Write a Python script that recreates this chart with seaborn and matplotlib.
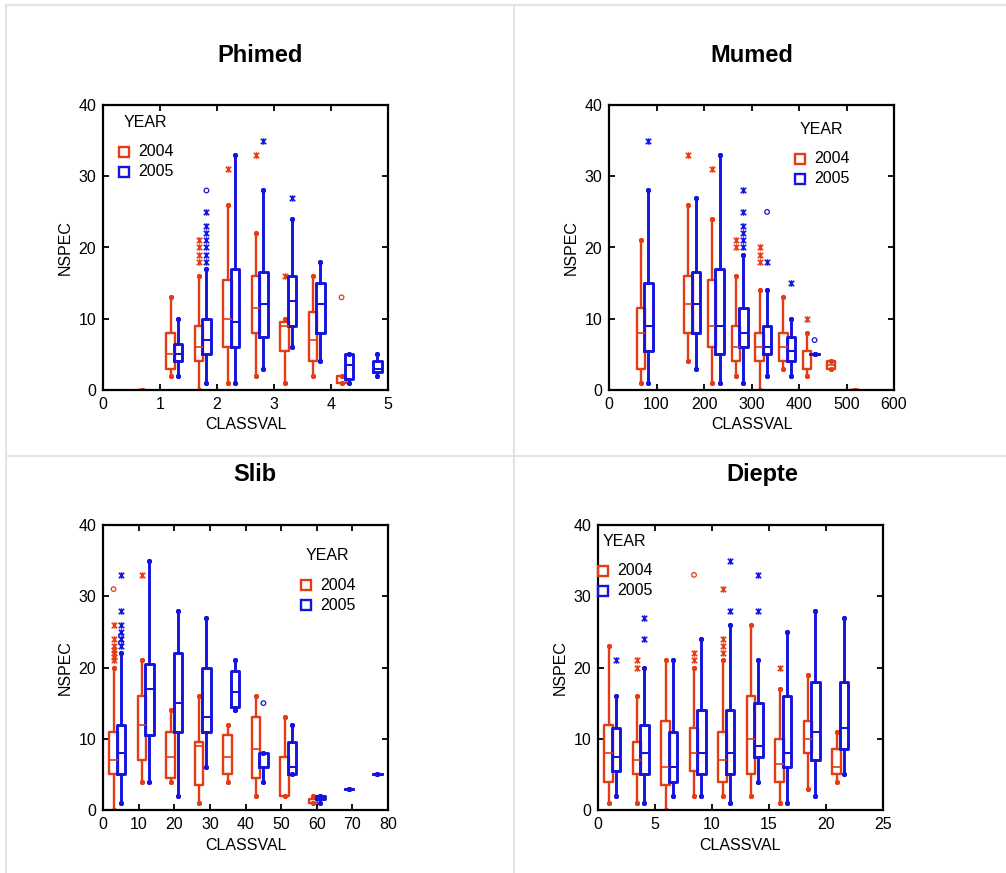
import matplotlib
matplotlib.use("Agg")
import matplotlib.pyplot as plt
from matplotlib.lines import Line2D
from matplotlib.path import Path
import numpy as np
import pandas as pd
import seaborn as sns

# box stats per class: (classval, whisker low, q1, median, q3, whisker high)
phimed_2004 = [
    (0.75, 0, 0, 0, 0, 0),
    (1.25, 2, 3, 5, 8, 13),
    (1.75, 0, 4, 6, 9, 16),
    (2.25, 1, 6, 10, 15.5, 26),
    (2.75, 2, 8, 11.5, 16, 22),
    (3.25, 1, 5.5, 9, 9.5, 10),
    (3.75, 2, 4, 7, 11, 16),
    (4.25, 1, 1, 1, 2, 2),
]
phimed_2005 = [
    (1.25, 2, 4, 5, 6.5, 10),
    (1.75, 1, 5, 7, 10, 17),
    (2.25, 1, 6, 9.5, 17, 33),
    (2.75, 3, 7.5, 12, 16.5, 28),
    (3.25, 6, 9, 12.5, 16, 24),
    (3.75, 4, 8, 12, 15, 18),
    (4.25, 1, 1.5, 3.5, 5, 5),
    (4.75, 2, 2.5, 3, 4, 5),
]
mumed_2004 = [
    (75, 1, 3, 8, 11.5, 21),
    (175, 4, 8, 12, 16, 26),
    (225, 1, 6, 9, 15.5, 24),
    (275, 2, 4, 6, 9, 16),
    (325, 0, 4, 6, 8, 14),
    (375, 3, 4, 6, 8, 13),
    (425, 2, 3, 3, 5.5, 8),
    (475, 3, 3, 3.5, 4, 4),
    (525, 0, 0, 0, 0, 0),
]
mumed_2005 = [
    (75, 1, 5.5, 9, 15, 28),
    (175, 3, 8, 12, 16.5, 27),
    (225, 1, 5, 9, 17, 33),
    (275, 1, 6, 8, 11.5, 19),
    (325, 2, 5, 6, 9, 14),
    (375, 2, 4, 5.5, 7.5, 10),
    (425, 5, 5, 5, 5, 5),
]
slib_2004 = [
    (4, 0, 5, 7, 11, 20),
    (12, 4, 7, 12, 16, 21),
    (20, 4, 4.5, 7.5, 11, 14),
    (28, 1, 3.5, 9, 9.5, 16),
    (36, 4, 5, 7.5, 10.5, 12),
    (44, 2, 4.5, 8.5, 13, 16),
    (52, 2, 2, 2, 7.5, 13),
    (60, 1, 1, 1, 1.5, 2),
]
slib_2005 = [
    (4, 1, 5, 8, 12, 22),
    (12, 4, 10.5, 17, 20.5, 35),
    (20, 2, 11, 15, 22, 28),
    (28, 6, 11, 13, 20, 27),
    (36, 14, 14.5, 16.5, 19.5, 21),
    (44, 4, 6, 6, 8, 8),
    (52, 5, 5, 6, 9.5, 12),
    (60, 1, 1.5, 2, 2, 2),
    (68, 3, 3, 3, 3, 3),
    (76, 5, 5, 5, 5, 5),
]
diepte_2004 = [
    (1.25, 1, 4, 8, 12, 23),
    (3.75, 1, 5, 7, 9.5, 16),
    (6.25, 0, 3.5, 6, 12.5, 21),
    (8.75, 2, 5.5, 8, 11.5, 20),
    (11.25, 2, 4, 7, 11, 21),
    (13.75, 2, 5, 10, 16, 26),
    (16.25, 1, 4, 6.5, 10, 17),
    (18.75, 3, 8, 10, 12.5, 19),
    (21.25, 4, 5, 6, 8.5, 11),
]
diepte_2005 = [
    (1.25, 2, 5.5, 7.5, 11.5, 16),
    (3.75, 1, 5, 8, 12, 20),
    (6.25, 2, 4, 6, 11, 21),
    (8.75, 2, 5, 8, 14, 24),
    (11.25, 1, 5, 8, 14, 26),
    (13.75, 4, 7.5, 9, 15, 21),
    (16.25, 1, 6, 8, 16, 25),
    (18.75, 2, 7, 11, 18, 28),
    (21.25, 5, 8.5, 11.5, 18, 27),
]

# outside values (asterisks) and far outside values (circles): (classval, nspec)
phimed_2004_star = [(1.75, 18), (1.75, 19), (1.75, 20), (1.75, 21), (2.25, 31), (2.75, 33), (3.25, 16)]
phimed_2004_circ = [(4.25, 13)]
phimed_2005_star = [(1.75, 18), (1.75, 19), (1.75, 20), (1.75, 21), (1.75, 22), (1.75, 23),
                    (1.75, 25), (2.75, 35), (3.25, 27)]
phimed_2005_circ = [(1.75, 28)]
mumed_2004_star = [(175, 33), (225, 31), (275, 20), (275, 21), (325, 18), (325, 19), (325, 20), (425, 10)]
mumed_2004_circ = []
mumed_2005_star = [(75, 35), (275, 20), (275, 21), (275, 22), (275, 23), (275, 25), (275, 28),
                   (325, 18), (375, 15)]
mumed_2005_circ = [(325, 25), (425, 7)]
slib_2004_star = [(4, 21), (4, 21.5), (4, 22), (4, 22.5), (4, 23), (4, 24), (4, 26), (12, 33)]
slib_2004_circ = [(4, 31)]
slib_2005_star = [(4, 23), (4, 24), (4, 25), (4, 26), (4, 28), (4, 33)]
slib_2005_circ = [(4, 23.5), (4, 24.5), (44, 15)]
diepte_2004_star = [(3.75, 20), (3.75, 21), (8.75, 21), (8.75, 22), (11.25, 22), (11.25, 23),
                    (11.25, 24), (11.25, 31), (16.25, 20)]
diepte_2004_circ = [(8.75, 33)]
diepte_2005_star = [(1.25, 21), (3.75, 24), (3.75, 27), (11.25, 28), (11.25, 35), (13.75, 28), (13.75, 33)]
diepte_2005_circ = []

years = ["2004", "2005"]
RED = "#e63c14"
BLUE = "#1414e0"

W, H = 1006, 873
AX_W, AX_H = 285, 285
BOX_PX = 8.5    # box width in pixels
SHIFT_PX = 3.7  # offset of each year from class centre, pixels

# x with a vertical bar, like the SYSTAT asterisk
STAR = Path([(-1, -1), (1, 1), (-1, 1), (1, -1), (0, -1.2), (0, 1.2)],
            [Path.MOVETO, Path.LINETO] * 3)

panels = [
    dict(title="Phimed", xmax=5, step=1, rect=(103, 105), title_xy=(260, 55), key=(124, 122.5),
         data=(phimed_2004, phimed_2005),
         star=(phimed_2004_star, phimed_2005_star), circ=(phimed_2004_circ, phimed_2005_circ)),
    dict(title="Mumed", xmax=600, step=100, rect=(609, 105), title_xy=(752, 55), key=(800, 129),
         data=(mumed_2004, mumed_2005),
         star=(mumed_2004_star, mumed_2005_star), circ=(mumed_2004_circ, mumed_2005_circ)),
    dict(title="Slib", xmax=80, step=10, rect=(103, 525), title_xy=(255, 475), key=(306, 555.5),
         data=(slib_2004, slib_2005),
         star=(slib_2004_star, slib_2005_star), circ=(slib_2004_circ, slib_2005_circ)),
    dict(title="Diepte", xmax=25, step=5, rect=(598, 525), title_xy=(762, 475), key=(603, 541),
         data=(diepte_2004, diepte_2005),
         star=(diepte_2004_star, diepte_2005_star), circ=(diepte_2004_circ, diepte_2005_circ)),
]


def fx(px):
    return px / W


def fy(py):
    return 1 - py / H


def draw_boxes(ax, rows, shift, width, color, lw):
    stats = [dict(whislo=r[1], q1=r[2], med=r[3], q3=r[4], whishi=r[5], fliers=[]) for r in rows]
    pos = [r[0] + shift for r in rows]
    ax.bxp(stats, positions=pos, widths=width, showfliers=False, manage_ticks=False,
           capwidths=0,
           boxprops=dict(color=color, lw=lw),
           whiskerprops=dict(color=color, lw=lw),
           capprops=dict(color=color, marker="o", ms=2.6, ls="none"),
           medianprops=dict(color=color, lw=lw * 0.7))


def draw_outliers(ax, pts, shift, color, kind):
    if not pts:
        return
    df = pd.DataFrame(pts, columns=["CLASSVAL", "NSPEC"])
    df["CLASSVAL"] = df["CLASSVAL"] + shift
    if kind == "star":
        sns.scatterplot(data=df, x="CLASSVAL", y="NSPEC", marker=STAR, s=22,
                        color=color, edgecolor=color, linewidth=1.1, ax=ax, clip_on=False)
    else:
        sns.scatterplot(data=df, x="CLASSVAL", y="NSPEC", marker="o", s=11,
                        facecolor="none", edgecolor=color, linewidth=0.9, ax=ax, clip_on=False)


def main():
    sns.set_style("ticks")
    plt.rcParams["font.family"] = ["Liberation Sans", "DejaVu Sans"]
    plt.rcParams["text.color"] = "black"
    plt.rcParams["axes.labelcolor"] = "black"
    plt.rcParams["xtick.color"] = "black"
    plt.rcParams["ytick.color"] = "black"

    fig = plt.figure(figsize=(W / 100, H / 100), dpi=100)

    # panel frame lines
    grey = "#e4e4e4"
    fig.add_artist(Line2D([fx(6), fx(W)], [fy(5), fy(5)], color=grey, lw=1.6))
    fig.add_artist(Line2D([fx(6), fx(6)], [fy(5), fy(H)], color=grey, lw=1.6))
    fig.add_artist(Line2D([fx(514), fx(514)], [fy(5), fy(H)], color=grey, lw=1.6))
    fig.add_artist(Line2D([fx(6), fx(W)], [fy(456), fy(456)], color=grey, lw=1.6))

    colors = [RED, BLUE]
    lws = [1.7, 2.1]
    for p in panels:
        left, top = p["rect"]
        ax = fig.add_axes([fx(left), fy(top + AX_H), AX_W / W, AX_H / H])
        ppu = AX_W / p["xmax"]
        width = BOX_PX / ppu
        shift = SHIFT_PX / ppu
        for i, yr in enumerate(years):
            s = -shift if i == 0 else shift
            draw_boxes(ax, p["data"][i], s, width, colors[i], lws[i])
            draw_outliers(ax, p["star"][i], s, colors[i], "star")
            draw_outliers(ax, p["circ"][i], s, colors[i], "circ")

        ax.set_xlim(0, p["xmax"])
        ax.set_ylim(0, 40)
        ax.set_xticks(np.arange(0, p["xmax"] + p["step"] / 2, p["step"]))
        ax.set_yticks([0, 10, 20, 30, 40])
        ax.set_xlabel("CLASSVAL", fontsize=11.5, labelpad=4)
        ax.set_ylabel("NSPEC", fontsize=11.5, labelpad=4)
        ax.tick_params(direction="in", top=True, right=True, length=4.5, width=1.3,
                       labelsize=11.5, pad=5)
        for sp in ax.spines.values():
            sp.set_linewidth(1.6)
            sp.set_color("black")

        fig.text(fx(p["title_xy"][0]), fy(p["title_xy"][1]), p["title"], fontsize=17,
                 fontweight="bold", ha="center", va="center")

        # YEAR key
        kx, ky = p["key"]
        fig.text(fx(kx), fy(ky), "YEAR", fontsize=11.5, ha="left", va="center")
        for i, yr in enumerate(years):
            yy = ky + 29.5 + 20 * i
            fig.add_artist(Line2D([fx(kx)], [fy(yy)], marker="s", ms=6.5, mfc="none",
                                  mec=colors[i], mew=1.7, ls="none"))
            fig.text(fx(kx + 14), fy(yy), yr, fontsize=11.5, ha="left", va="center")

    fig.savefig("out.png", dpi=100)


if __name__ == "__main__":
    main()
